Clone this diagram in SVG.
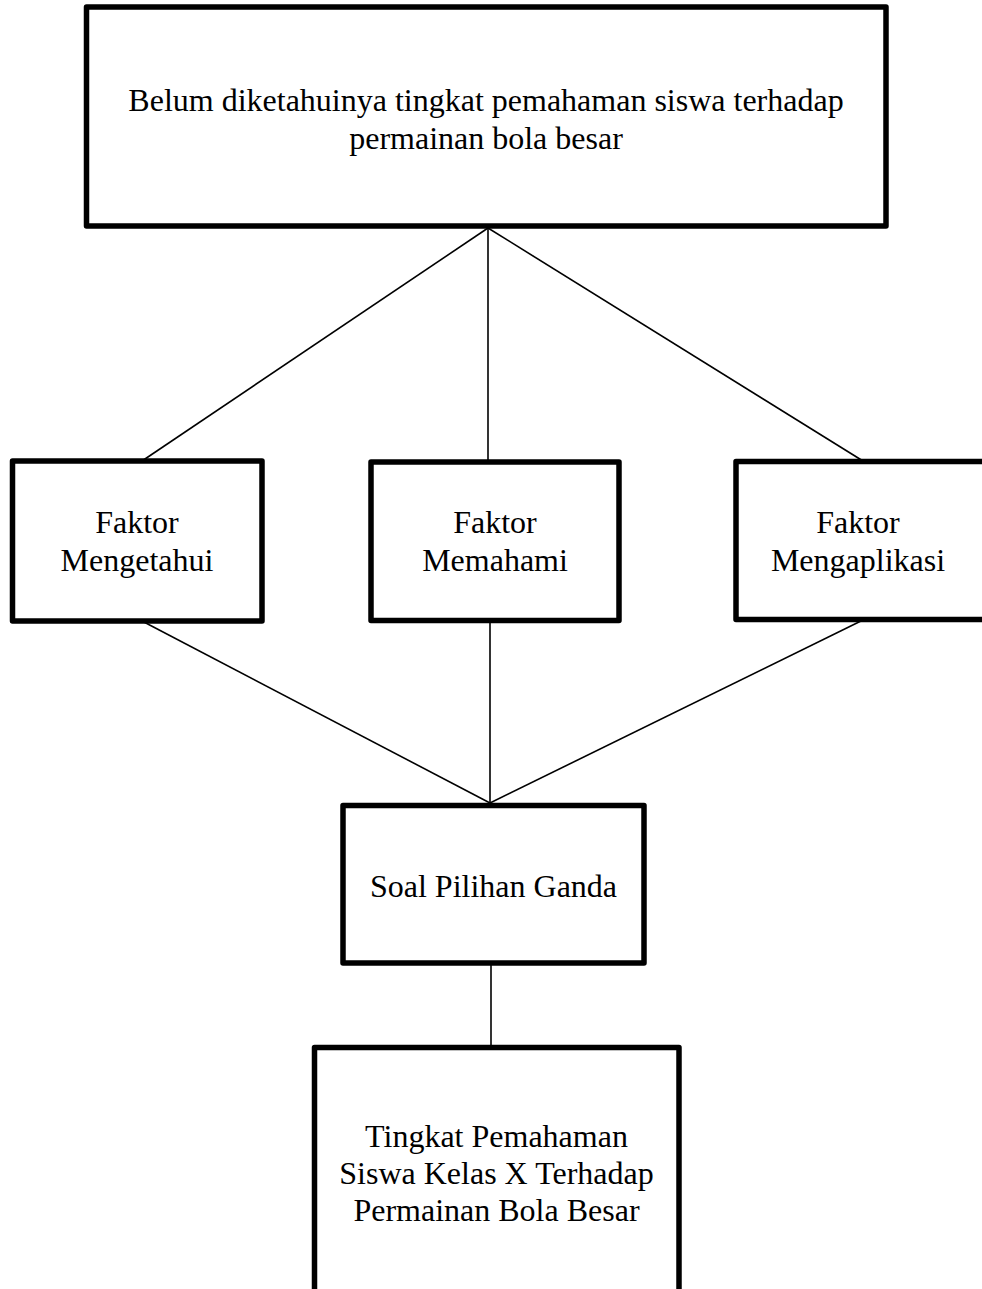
<svg xmlns="http://www.w3.org/2000/svg" width="982" height="1289" viewBox="0 0 982 1289">
<style>
.box{fill:#fff;stroke:#000;stroke-width:5.5;stroke-linejoin:round}
.ln{stroke:#000;stroke-width:1.6;fill:none}
text{font-family:"Liberation Serif","Times New Roman",serif;font-size:32px;fill:#000;text-anchor:middle}
</style>
<rect width="982" height="1289" fill="#fff"/>
<g id="connectors">
<line class="ln" x1="488" y1="228" x2="142" y2="461"/>
<line class="ln" x1="488" y1="228" x2="488" y2="461"/>
<line class="ln" x1="488" y1="228" x2="863" y2="461"/>
<line class="ln" x1="142" y1="621" x2="490" y2="803"/>
<line class="ln" x1="490" y1="620" x2="490" y2="803"/>
<line class="ln" x1="863" y1="620" x2="490" y2="803"/>
<line class="ln" x1="491" y1="963" x2="491" y2="1047"/>
</g>
<g id="n-top">
<rect class="box" x="86.5" y="7" width="799.5" height="219"/>
<text x="486" y="111">Belum diketahuinya tingkat pemahaman siswa terhadap</text>
<text x="486" y="149">permainan bola besar</text>
</g>
<g id="n-mengetahui">
<rect class="box" x="12.5" y="461" width="249.5" height="160"/>
<text x="137" y="533">Faktor</text>
<text x="137" y="571">Mengetahui</text>
</g>
<g id="n-memahami">
<rect class="box" x="371" y="462" width="248" height="158.5"/>
<text x="495" y="533">Faktor</text>
<text x="495" y="571">Memahami</text>
</g>
<g id="n-mengaplikasi">
<rect class="box" x="736" y="461.5" width="254" height="158"/>
<text x="858" y="533">Faktor</text>
<text x="858" y="571">Mengaplikasi</text>
</g>
<g id="n-soal">
<rect class="box" x="343" y="805.5" width="301" height="157.5"/>
<text x="493.5" y="897">Soal Pilihan Ganda</text>
</g>
<g id="n-tingkat">
<rect class="box" x="314.5" y="1047.5" width="364.5" height="260"/>
<text x="496.5" y="1147">Tingkat Pemahaman</text>
<text x="496.5" y="1184">Siswa Kelas X Terhadap</text>
<text x="496.5" y="1221">Permainan Bola Besar</text>
</g>
</svg>
